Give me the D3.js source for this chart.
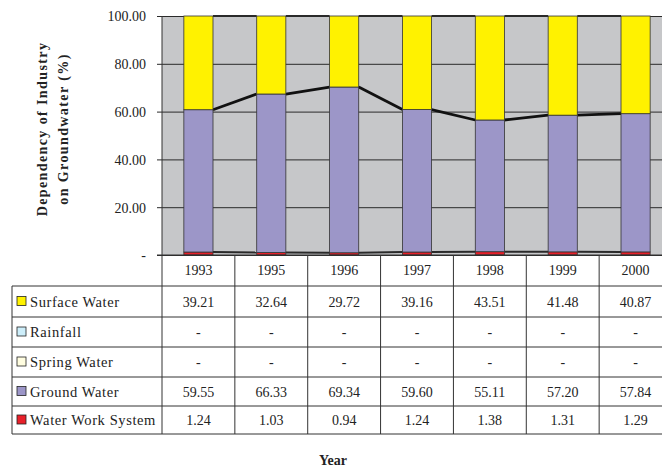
<!DOCTYPE html>
<html>
<head>
<meta charset="utf-8">
<script src="https://cdn.jsdelivr.net/npm/d3@7"></script>
<style>
  body { margin: 0; background: #fff; }
  svg, svg text, svg g { font-family: "Liberation Serif", "Times New Roman", serif; }
  svg text { fill: #222; }
</style>
</head>
<body>
<div id="chart"></div>
<script>
// data
var years = ["1993", "1995", "1996", "1997", "1998", "1999", "2000"];
var surfaceWater = [39.21, 32.64, 29.72, 39.16, 43.51, 41.48, 40.87];
var rainfall = [0, 0, 0, 0, 0, 0, 0];
var springWater = [0, 0, 0, 0, 0, 0, 0];
var groundWater = [59.55, 66.33, 69.34, 59.60, 55.11, 57.20, 57.84];
var waterWork = [1.24, 1.03, 0.94, 1.24, 1.38, 1.31, 1.29];
var yTicks = [0, 20, 40, 60, 80, 100];

// series, top row of the table first (stacked in reverse)
var series = [
    {name: "Surface Water", values: surfaceWater, color: "#fff200"},
    {name: "Rainfall", values: rainfall, color: "#cdeefa"},
    {name: "Spring Water", values: springWater, color: "#fffde0"},
    {name: "Ground Water", values: groundWater, color: "#9c96c8"},
    {name: "Water Work System", values: waterWork, color: "#e8202a"}
];

var SERIF = "'Liberation Serif', 'Times New Roman', serif";

function stackChart(){
    var width = 662;
    var height = 468;
    var margin = {left: 162, top: 16, plotBottom: 255, right: 672};

    function chart(selection){
	selection.each(function(){
	    var svg = d3.select(this).append("svg")
		.attr("width", width).attr("height", height)
		.attr("font-family", SERIF);

	    var x = d3.scaleBand().domain(years).range([margin.left, margin.right]);
	    var y = d3.scaleLinear().domain([0, 100]).range([margin.plotBottom, margin.top]);
	    var barW = x.bandwidth() * 0.4;
	    var barX = function(yr){ return x(yr) + (x.bandwidth() - barW) / 2; };

	    // stack bottom-up
	    var keys = series.map(function(s){ return s.name; }).reverse();
	    var rows = years.map(function(yr, i){
		var r = {year: yr};
		series.forEach(function(s){ r[s.name] = s.values[i]; });
		return r;
	    });
	    var stacked = d3.stack().keys(keys)(rows);
	    var colorOf = {};
	    series.forEach(function(s){ colorOf[s.name] = s.color; });

	    // plot background
	    svg.append("rect")
		.attr("x", margin.left).attr("y", margin.top)
		.attr("width", margin.right - margin.left)
		.attr("height", margin.plotBottom - margin.top)
		.attr("fill", "#c6c7c9");

	    // gridlines + y axis
	    var yAxis = d3.axisLeft(y).tickValues(yTicks)
		.tickSize(-(margin.right - margin.left))
		.tickFormat(function(d){ return d === 0 ? "-" : d3.format(".2f")(d); });
	    var ga = svg.append("g").attr("transform", "translate(" + margin.left + ",0)").call(yAxis);
	    ga.attr("font-family", SERIF);
	    ga.select(".domain").remove();
	    ga.selectAll(".tick line").attr("stroke", "#2a2a2a").attr("stroke-width", 1)
		.attr("x1", -5);
	    ga.selectAll(".tick text")
		.attr("x", -16).attr("dy", "0.35em")
		.style("font-size", "14px").style("font-family", SERIF).attr("fill", "#222");
	    svg.append("line")
		.attr("x1", margin.left).attr("x2", margin.left)
		.attr("y1", margin.top).attr("y2", margin.plotBottom)
		.attr("stroke", "#333");

	    // series lines between bars
	    stacked.forEach(function(layer){
		if (d3.max(layer, function(d){ return d[1] - d[0]; }) === 0) return;
		for (var i = 0; i < years.length - 1; i++) {
		    var thick = layer.key === "Ground Water";
		    svg.append("line")
			.attr("x1", barX(years[i]) + barW)
			.attr("x2", barX(years[i + 1]))
			.attr("y1", y(layer[i][1]))
			.attr("y2", y(layer[i + 1][1]))
			.attr("stroke", thick ? "#111" : "#2a2a2a")
			.attr("stroke-width", thick ? 2.8 : 2);
		}
	    });

	    // bars
	    svg.selectAll("g.layer")
		.data(stacked)
		.enter().append("g").attr("class", "layer")
		.attr("fill", function(d){ return colorOf[d.key]; })
		.selectAll("rect")
		.data(function(d){ return d; })
		.enter().append("rect")
		.attr("x", function(d){ return barX(d.data.year); })
		.attr("width", barW)
		.attr("y", function(d){ return y(d[1]); })
		.attr("height", function(d){ return y(d[0]) - y(d[1]); })
		.attr("stroke", "#333")
		.attr("stroke-width", function(d){ return d[1] - d[0] > 0 ? 0.8 : 0; });

	    // axis baseline
	    svg.append("line")
		.attr("x1", margin.left - 5).attr("x2", margin.right)
		.attr("y1", margin.plotBottom).attr("y2", margin.plotBottom)
		.attr("stroke", "#333").attr("stroke-width", 1.2);

	    // data table
	    var tableLeft = 12;
	    var headerBottom = 286;
	    var rowEdges = [286, 317, 347, 377, 406, 434];
	    var tbl = svg.append("g").attr("class", "table").style("font-family", SERIF);

	    years.forEach(function(yr){
		tbl.append("text")
		    .attr("x", x(yr) + x.bandwidth() / 2).attr("y", 275)
		    .attr("text-anchor", "middle").style("font-size", "14px")
		    .style("font-family", SERIF)
		    .text(yr);
	    });

	    series.forEach(function(s, r){
		var top = rowEdges[r], bot = rowEdges[r + 1];
		var mid = (top + bot) / 2;
		tbl.append("rect")
		    .attr("x", 17).attr("y", mid - 5)
		    .attr("width", 9).attr("height", 9)
		    .attr("fill", s.color).attr("stroke", "#222").attr("stroke-width", 0.8);
		tbl.append("text")
		    .attr("x", 30).attr("y", mid + 5)
		    .style("font-size", "14.5px").style("letter-spacing", "0.6px")
		    .style("font-family", SERIF)
		    .text(s.name);
		s.values.forEach(function(v, i){
		    tbl.append("text")
			.attr("x", x(years[i]) + x.bandwidth() / 2).attr("y", mid + 5)
			.attr("text-anchor", "middle").style("font-size", "14px")
			.style("font-family", SERIF)
			.text(v === 0 ? "-" : d3.format(".2f")(v));
		});
	    });

	    // table rules
	    rowEdges.forEach(function(yy){
		tbl.append("line")
		    .attr("x1", tableLeft).attr("x2", margin.right)
		    .attr("y1", yy).attr("y2", yy)
		    .attr("stroke", "#333").attr("stroke-width", 1);
	    });
	    tbl.append("line")
		.attr("x1", tableLeft).attr("x2", tableLeft)
		.attr("y1", headerBottom).attr("y2", rowEdges[rowEdges.length - 1])
		.attr("stroke", "#333");
	    years.forEach(function(yr){
		tbl.append("line")
		    .attr("x1", x(yr)).attr("x2", x(yr))
		    .attr("y1", margin.plotBottom).attr("y2", rowEdges[rowEdges.length - 1])
		    .attr("stroke", "#333");
	    });

	    // axis titles
	    var title = svg.append("text")
		.attr("transform", "translate(0,129) rotate(-90)")
		.attr("text-anchor", "middle")
		.style("font-family", SERIF)
		.style("font-size", "14px").style("font-weight", "bold").style("letter-spacing", "1.4px");
	    title.append("tspan").attr("x", 0).attr("y", 47).text("Dependency of Industry");
	    title.append("tspan").attr("x", 0).attr("y", 68).text("on Groundwater (%)");

	    svg.append("text")
		.attr("x", 333).attr("y", 465)
		.attr("text-anchor", "middle")
		.style("font-family", SERIF)
		.style("font-size", "14px").style("font-weight", "bold")
		.text("Year");
	});
    }

    chart.width = function(v){
	if(!arguments.length) return width;
	width = v;
	return chart;
    }

    chart.height = function(v){
	if(!arguments.length) return height;
	height = v;
	return chart;
    }

    return chart;
}

var chart = stackChart();
d3.select("#chart").call(chart);
</script>
</body>
</html>
